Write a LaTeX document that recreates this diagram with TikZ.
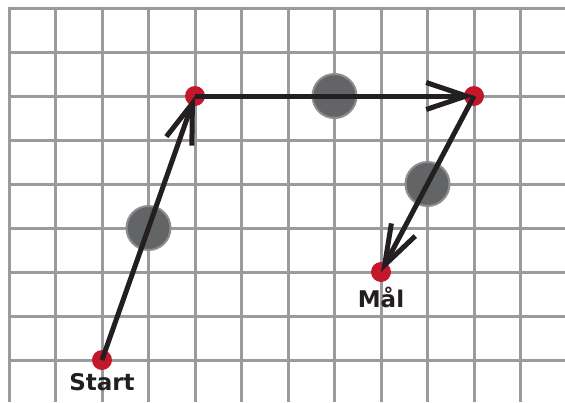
\documentclass[tikz,border=0pt]{standalone}
\usepackage{fontspec}
\setmainfont{DejaVu Sans}
\usetikzlibrary{arrows.meta}
\definecolor{gridgray}{HTML}{9B9B9D}
\definecolor{ink}{HTML}{231F20}
\definecolor{dotred}{HTML}{C4172C}
\definecolor{markfill}{HTML}{636466}
\definecolor{markedge}{HTML}{8E8E90}
\tikzset{
  gridline/.style={draw=gridgray, line width=3pt},
  reddot/.style={circle, fill=dotred, inner sep=0pt, minimum size=20pt},
  marker/.style={circle, fill=markfill, draw=markedge, line width=2pt, inner sep=0pt, minimum size=44pt},
  route/.style={draw=ink, line width=5pt, -{Straight Barb[length=40pt,width=27pt]}},
  lbl/.style={text=ink, font=\bfseries\fontsize{23}{23}\selectfont, anchor=base, inner sep=0pt}
}
\begin{document}
\begin{tikzpicture}[x=1pt,y=-1pt]
\useasboundingbox (0,0) rectangle (565,402);
\fill[white] (0,0) rectangle (565,402);
\foreach \i in {0,...,11} \draw[gridline] (9+46.5*\i,6.5) -- (9+46.5*\i,402);
\foreach \j in {0,...,8} \draw[gridline] (7.5,8+44*\j) -- (565,8+44*\j);
\node[marker] (m1) at (148.5,228) {};
\node[marker] (m2) at (334.5,96) {};
\node[marker] (m3) at (427.5,184) {};
\node[reddot] (start) at (102,360) {};
\node[reddot] (p1) at (195,96) {};
\node[reddot] (p2) at (474,96) {};
\node[reddot] (goal) at (381,272) {};
\draw[route] (start.center) -- (p1.center);
\draw[route] (p1.center) -- (p2.center);
\draw[route] (p2.center) -- (goal.center);
\node[lbl] (startlbl) at (102,390) {Start};
\node[lbl] (goallbl) at (381,307) {Mål};
\end{tikzpicture}
\end{document}
